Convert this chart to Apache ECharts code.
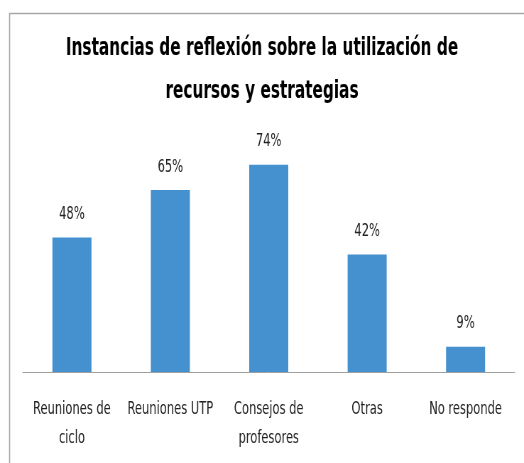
<!DOCTYPE html>
<html><head><meta charset="utf-8">
<script src="https://cdn.jsdelivr.net/npm/echarts@6/dist/echarts.min.js"></script>
<style>
html,body{margin:0;padding:0;background:#fff;overflow:hidden}
#wrap{width:524px;height:463px;overflow:hidden}
#c{width:738px;height:463px;transform:scaleX(0.71);transform-origin:0 0}
</style>
</head><body><div id="wrap"><div id="c"></div></div>
<script>
const categories = ['Reuniones de\nciclo', 'Reuniones UTP', 'Consejos de\nprofesores', 'Otras', 'No responde'];
const values = [48, 65, 74, 42, 9];
const titleText = 'Instancias de reflexión sobre la utilización de\nrecursos y estrategias';

const chart = echarts.init(document.getElementById('c'));
const font = '"DejaVu Sans Condensed", "DejaVu Sans", sans-serif';
chart.setOption({
  animation: false,
  graphic: [{
    type: 'rect', left: 11, top: 11, shape: { x: 0, y: 0, width: 1000, height: 700 },
    style: { fill: 'none', stroke: '#a6a6a6', lineWidth: 1.6 }, silent: true, z: -1
  }],
  title: {
    text: titleText, left: 'center', top: 22,
    textStyle: { fontFamily: font, fontSize: 24, fontWeight: 'bold', color: '#000', lineHeight: 43 }
  },
  grid: { left: 32, right: 13, top: 92, bottom: 91, containLabel: false },
  xAxis: {
    type: 'category', data: categories,
    axisLine: { lineStyle: { color: '#a0a0a0', width: 1 } },
    axisTick: { show: false },
    axisLabel: { interval: 0, fontFamily: font, fontSize: 18, color: '#222', lineHeight: 29, margin: 23 }
  },
  yAxis: { type: 'value', min: 0, max: 100, show: false, splitLine: { show: false } },
  series: [{
    type: 'bar', data: values, barWidth: 55,
    itemStyle: { color: '#4590CE' },
    label: { show: true, position: 'top', distance: 14, formatter: p => p.value + '%',
      fontFamily: font, fontSize: 18, color: '#222' }
  }]
});
</script></body></html>
